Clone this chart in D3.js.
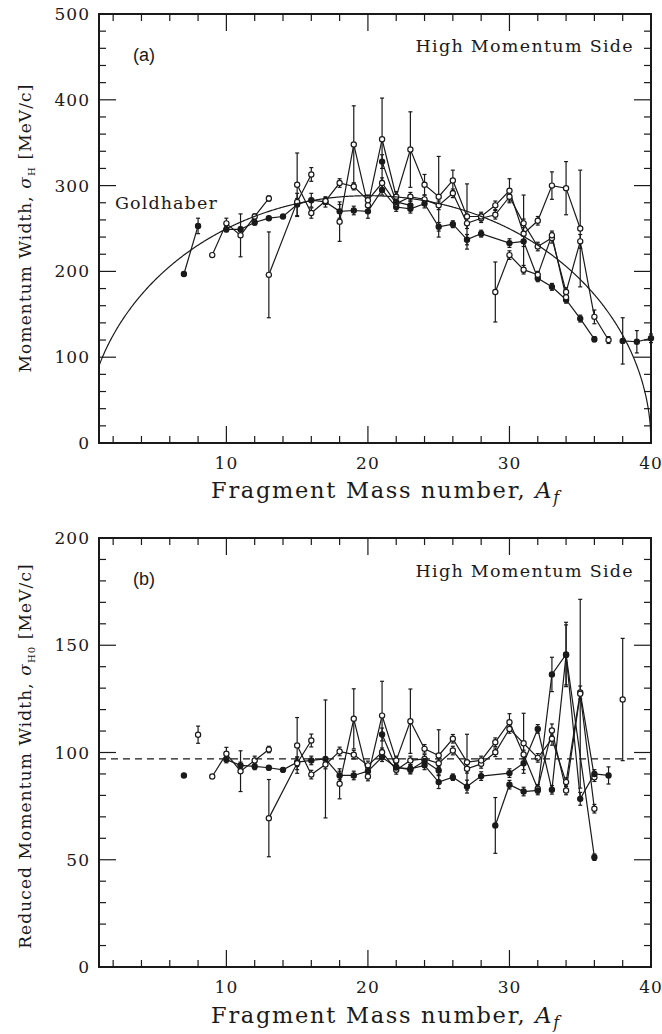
<!DOCTYPE html>
<html>
<head>
<meta charset="utf-8">
<script src="https://cdn.jsdelivr.net/npm/d3@7"></script>
<style>
  html, body { margin: 0; padding: 0; background: #fff; }
  svg { display: block; }
  text { fill: #1a1a1a; }
</style>
</head>
<body>
<svg id="chart" width="662" height="1034"></svg>
<script>
// Fragment mass number range and tick values
const massTicksMajor = [10, 20, 30, 40];
const massTicksMinor = [2, 4, 6, 8, 12, 14, 16, 18, 22, 24, 26, 28, 32, 34, 36, 38];
const widthTicksA = [0, 100, 200, 300, 400, 500];
const widthTicksB = [0, 50, 100, 150, 200];

// Goldhaber model parameters: sigma0 [MeV/c], projectile mass
const goldhaberSigma0 = [90];
const projectileMass = [40];
// Mean reduced width (dashed line)
const meanReducedWidth = [97];

// (a) momentum width sigma_H: isotope chains, each point [A, sigma, error]
const chainA1 = [[7, 197, 0], [8, 253, 9]];
const chainA2 = [[9, 219, 0], [10, 256, 6], [11, 242, 25], [12, 264, 3], [13, 285, 3]];
const chainA3 = [[10, 249, 3], [11, 249, 3], [12, 257, 3], [13, 262, 2], [14, 264, 2], [15, 278, 13],
  [16, 283, 8], [17, 281, 6], [18, 270, 8], [19, 271, 5], [20, 270, 8], [21, 295, 6], [22, 275, 5],
  [23, 273, 5], [24, 279, 5], [25, 252, 5], [26, 255, 4], [27, 237, 6], [28, 244, 4], [30, 233, 5],
  [31, 235, 6], [32, 192, 4], [33, 182, 4], [34, 167, 4], [35, 145, 4], [36, 121, 3]];
const chainA4 = [[13, 196, 50], [15, 281, 4], [16, 313, 8]];
const chainA5 = [[15, 301, 37], [16, 268, 6], [17, 282, 4], [18, 303, 5], [19, 299, 4], [20, 283, 6],
  [21, 303, 6], [22, 279, 5], [23, 287, 5], [24, 284, 5], [25, 277, 5], [26, 291, 5], [27, 256, 6],
  [28, 262, 5], [29, 266, 5], [30, 287, 5], [31, 256, 5], [32, 229, 5], [33, 239, 6], [34, 176, 5],
  [35, 235, 8], [36, 147, 8], [37, 120, 4]];
const chainA6 = [[18, 258, 23], [19, 348, 45], [20, 277, 6], [21, 354, 48], [22, 287, 6], [23, 342, 44],
  [24, 301, 12], [25, 287, 47], [26, 306, 12], [27, 264, 38], [28, 264, 5], [29, 277, 5], [30, 294, 14],
  [31, 244, 45], [32, 259, 5], [33, 300, 16], [34, 297, 31], [35, 250, 68]];
const chainA7 = [[21, 328, 8], [22, 281, 5], [23, 277, 5]];
const chainA8 = [[29, 176, 35], [30, 219, 5], [31, 202, 5], [32, 196, 4], [33, 242, 5], [34, 170, 4]];
const chainA9 = [[38, 119, 27], [39, 118, 13], [40, 122, 5]];

// (b) reduced momentum width sigma_H0: isotope chains, each point [A, sigma0, error]
const chainB1 = [[7, 89.3, 0]];
const chainB2 = [[8, 108.3, 4]];
const chainB3 = [[9, 88.8, 0], [10, 99.4, 3], [11, 91.3, 9.5], [12, 96.3, 2], [13, 101.4, 1.5]];
const chainB4 = [[10, 96.7, 1.5], [11, 94, 1.5], [12, 93.5, 1.5], [13, 92.9, 1], [14, 91.9, 1],
  [15, 95.5, 2], [16, 96.3, 2], [17, 97, 27.5], [18, 89.3, 2], [19, 89.3, 2], [20, 91.3, 2],
  [21, 97.8, 2], [22, 93.1, 2], [23, 92.4, 2], [24, 94, 2], [25, 86.2, 3], [26, 88.5, 1.5],
  [27, 84.1, 3], [28, 89, 2], [30, 90.4, 2], [31, 95, 3], [32, 111, 2], [33, 82.6, 2],
  [34, 145.5, 14], [36, 51.2, 1.5]];
const chainB5 = [[13, 69.4, 18], [15, 95, 3], [16, 105.6, 3]];
const chainB6 = [[15, 103.3, 13], [16, 89.7, 2], [17, 94.4, 2], [18, 100.5, 2], [19, 99, 2],
  [20, 94, 2], [21, 100.1, 2], [22, 91.9, 2], [23, 96.3, 2], [24, 97, 2], [25, 95, 2],
  [26, 100.9, 2], [27, 92.4, 2], [28, 94.7, 2], [29, 100.1, 2], [30, 111, 2], [31, 104.3, 14],
  [32, 97.5, 2], [33, 106.4, 3], [34, 86.2, 2], [35, 128, 3], [36, 88.5, 2]];
const chainB7 = [[18, 85.4, 7], [19, 115.7, 14], [20, 88.8, 2], [21, 117.2, 16], [22, 96.3, 2],
  [23, 114.6, 15], [24, 101.7, 2], [25, 98.6, 12], [26, 106.4, 2], [27, 95.5, 13], [28, 96.3, 2],
  [29, 104.8, 2], [30, 114.1, 4], [31, 99.1, 2], [32, 83.1, 2], [33, 110.3, 3], [34, 82.3, 2],
  [35, 127.4, 44], [36, 73.8, 2]];
const chainB8 = [[21, 108.4, 3], [22, 93, 2], [23, 92, 2], [24, 96, 2], [25, 91.6, 2]];
const chainB9 = [[29, 66, 13], [30, 85, 2], [31, 81.8, 2], [32, 82.3, 2], [33, 136.4, 8],
  [34, 145.7, 15], [35, 78.4, 3], [36, 90, 2], [37, 89.3, 4]];
const chainB10 = [[38, 124.7, 28.5]];

const chainsA = [chainA1, chainA2, chainA3, chainA4, chainA5, chainA6, chainA7, chainA8, chainA9];
const chainsB = [chainB1, chainB2, chainB3, chainB4, chainB5, chainB6, chainB7, chainB8, chainB9, chainB10];

// ---------------------------------------------------------------------------
const svg = d3.select("#chart");
const ink = "#1a1a1a";
const serif = "'DejaVu Serif', 'Liberation Serif', serif";
const sans = "'Liberation Sans', Arial, sans-serif";

// which chains use solid markers
const solidA = new Set([0, 2, 6, 8]);
const solidB = new Set([0, 3, 7, 8]);

function drawPanel(cfg) {
  const { top, bottom, left, right, yMax, yMajor, yMinorStep, chains, solid } = cfg;
  const x = d3.scaleLinear().domain([1, 40]).range([left, right]);
  const y = d3.scaleLinear().domain([0, yMax]).range([bottom, top]);
  const g = svg.append("g");

  // frame
  g.append("rect")
    .attr("x", left).attr("y", top)
    .attr("width", right - left).attr("height", bottom - top)
    .attr("fill", "none").attr("stroke", ink).attr("stroke-width", 2);

  const majLen = 17, minLen = 7;
  const yMinor = d3.range(0, yMax + 0.001, yMinorStep).filter(v => !yMajor.includes(v));

  // inward ticks on all four sides
  const tickG = g.append("g").attr("stroke", ink).attr("stroke-width", 1.2);
  const xTicks = massTicksMajor.map(v => [v, majLen]).concat(massTicksMinor.map(v => [v, minLen]));
  xTicks.forEach(([v, len]) => {
    tickG.append("line").attr("x1", x(v)).attr("x2", x(v)).attr("y1", bottom).attr("y2", bottom - len);
    tickG.append("line").attr("x1", x(v)).attr("x2", x(v)).attr("y1", top).attr("y2", top + len);
  });
  const yTicks = yMajor.map(v => [v, majLen]).concat(yMinor.map(v => [v, minLen]));
  yTicks.forEach(([v, len]) => {
    tickG.append("line").attr("y1", y(v)).attr("y2", y(v)).attr("x1", left).attr("x2", left + len);
    tickG.append("line").attr("y1", y(v)).attr("y2", y(v)).attr("x1", right).attr("x2", right - len);
  });

  // tick labels
  g.append("g").selectAll("text").data(massTicksMajor).join("text")
    .attr("x", d => x(d)).attr("y", bottom + 26)
    .attr("text-anchor", "middle")
    .attr("font-family", serif).attr("font-size", 17).attr("letter-spacing", 1)
    .text(d => d);
  g.append("g").selectAll("text").data(yMajor).join("text")
    .attr("x", left - 9).attr("y", d => y(d) + 6)
    .attr("text-anchor", "end")
    .attr("font-family", serif).attr("font-size", 17).attr("letter-spacing", 1)
    .text(d => d);

  const line = d3.line().x(d => x(d[0])).y(d => y(d[1]));
  const dataG = g.append("g");

  // error bars
  chains.forEach(ch => {
    ch.filter(d => d[2] > 0).forEach(d => {
      const y1 = y(d[1] - d[2]), y2 = y(Math.min(d[1] + d[2], yMax));
      dataG.append("line").attr("x1", x(d[0])).attr("x2", x(d[0]))
        .attr("y1", y1).attr("y2", y2).attr("stroke", ink).attr("stroke-width", 1.2);
      [y1, y2].forEach(yy => dataG.append("line")
        .attr("x1", x(d[0]) - 2).attr("x2", x(d[0]) + 2)
        .attr("y1", yy).attr("y2", yy).attr("stroke", ink).attr("stroke-width", 1.2));
    });
  });

  // connecting lines
  chains.forEach(ch => {
    if (ch.length > 1) {
      dataG.append("path").datum(ch.map(d => [d[0], d[1]]))
        .attr("d", line).attr("fill", "none")
        .attr("stroke", ink).attr("stroke-width", 1.2);
    }
  });

  // markers
  chains.forEach((ch, i) => {
    dataG.append("g").selectAll("circle").data(ch).join("circle")
      .attr("cx", d => x(d[0])).attr("cy", d => y(d[1])).attr("r", 2.6)
      .attr("fill", solid.has(i) ? ink : "#fff")
      .attr("stroke", ink).attr("stroke-width", 1.2);
  });

  return { g, x, y };
}

// ---------- panel (a)
const pa = drawPanel({
  top: 14, bottom: 443, left: 99, right: 651,
  yMax: 500, yMajor: widthTicksA, yMinorStep: 20,
  chains: chainsA, solid: solidA
});

// Goldhaber curve
const s0 = goldhaberSigma0[0], Ap = projectileMass[0];
const curve = d3.range(1, 40.0001, 0.05).map(a => [a, s0 * Math.sqrt(Math.max(0, a * (Ap - a) / (Ap - 1)))]);
curve.push([40, 0]);
pa.g.append("path").datum(curve)
  .attr("d", d3.line().x(d => pa.x(d[0])).y(d => pa.y(d[1])))
  .attr("fill", "none").attr("stroke", ink).attr("stroke-width", 1.2);

pa.g.append("text").attr("x", 133).attr("y", 61)
  .attr("font-family", sans).attr("font-size", 18).text("(a)");
pa.g.append("text").attr("x", 634).attr("y", 52).attr("text-anchor", "end")
  .attr("font-family", serif).attr("font-size", 17.5).attr("letter-spacing", 1.3)
  .text("High Momentum Side");
pa.g.append("text").attr("x", 115).attr("y", 209)
  .attr("font-family", serif).attr("font-size", 17.5).attr("letter-spacing", 1.1)
  .text("Goldhaber");

// ---------- panel (b)
const pb = drawPanel({
  top: 538, bottom: 967, left: 99, right: 651,
  yMax: 200, yMajor: widthTicksB, yMinorStep: 10,
  chains: chainsB, solid: solidB
});
pb.g.append("line")
  .attr("x1", pb.x(1)).attr("x2", pb.x(40))
  .attr("y1", pb.y(meanReducedWidth[0])).attr("y2", pb.y(meanReducedWidth[0]))
  .attr("stroke", ink).attr("stroke-width", 1.2).attr("stroke-dasharray", "7,5");

pb.g.append("text").attr("x", 133).attr("y", 585)
  .attr("font-family", sans).attr("font-size", 18).text("(b)");
pb.g.append("text").attr("x", 634).attr("y", 577).attr("text-anchor", "end")
  .attr("font-family", serif).attr("font-size", 17.5).attr("letter-spacing", 1.3)
  .text("High Momentum Side");

// ---------- axis titles
function xTitle(yPos) {
  const t = svg.append("text").attr("x", 386).attr("y", yPos).attr("text-anchor", "middle")
    .attr("font-family", serif).attr("font-size", 22.5).attr("letter-spacing", 1.7);
  t.append("tspan").text("Fragment Mass number, ");
  t.append("tspan").attr("font-style", "italic").text("A");
  t.append("tspan").attr("font-style", "italic").attr("font-size", 16).attr("dy", 5).text("f");
}
xTitle(498);
xTitle(1023);

function yTitle(cx, cy, prefix, sub, ls) {
  const t = svg.append("text").attr("transform", `translate(${cx},${cy}) rotate(-90)`)
    .attr("text-anchor", "middle").attr("font-family", serif).attr("font-size", 17)
    .attr("letter-spacing", ls);
  t.append("tspan").text(prefix);
  t.append("tspan").attr("font-style", "italic").text("σ");
  t.append("tspan").attr("font-size", 10).attr("dy", 4).text(sub);
  t.append("tspan").attr("dy", -4).text(" [MeV/c]");
}
yTitle(31, 228, "Momentum Width, ", "H", 1.1);
yTitle(31, 756, "Reduced Momentum Width, ", "H0", 1.1);
</script>
</body>
</html>
